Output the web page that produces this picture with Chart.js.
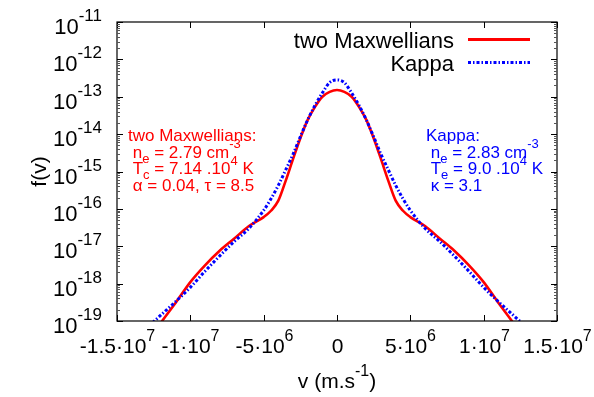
<!DOCTYPE html>
<html>
<head>
<meta charset="utf-8">
<script src="https://cdn.jsdelivr.net/npm/chart.js@4"></script>
<style>
  html, body { margin: 0; padding: 0; background: #fff; }
  #wrap { width: 594px; height: 397px; }
</style>
</head>
<body>
<div id="wrap"><canvas id="myChart" width="594" height="397"></canvas></div>
<script>
// velocities (m/s) where the curves were read
var velocity = [-13e6, -12e6, -11e6, -10e6, -9e6, -8e6, -7e6, -6e6, -5e6, -4.5e6, -4e6, -3.5e6, -3e6, -2.5e6, -2e6, -1.5e6, -1e6, -0.5e6, 0,
                0.5e6, 1e6, 1.5e6, 2e6, 2.5e6, 3e6, 3.5e6, 4e6, 4.5e6, 5e6, 6e6, 7e6, 8e6, 9e6, 10e6, 11e6, 12e6, 13e6];

// two Maxwellians fit
var fMaxwell = [2.5e-20, 9.1e-20, 3.09e-19, 1.10e-18, 3.09e-18, 7.59e-18, 1.62e-17, 3.47e-17, 6.03e-17, 8.91e-17, 1.66e-16, 5.62e-16, 2.14e-15, 7.76e-15, 2.40e-14, 5.37e-14, 1.0e-13, 1.35e-13, 1.51e-13,
                1.35e-13, 1.0e-13, 5.37e-14, 2.40e-14, 7.76e-15, 2.14e-15, 5.62e-16, 1.66e-16, 8.91e-17, 6.03e-17, 3.47e-17, 1.62e-17, 7.59e-18, 3.09e-18, 1.10e-18, 3.09e-19, 9.1e-20, 2.5e-20];

// Kappa fit
var fKappa = [6.3e-20, 1.45e-19, 3.31e-19, 7.94e-19, 2.14e-18, 5.50e-18, 1.35e-17, 3.02e-17, 9.12e-17, 1.86e-16, 4.27e-16, 1.10e-15, 2.88e-15, 8.51e-15, 2.40e-14, 5.89e-14, 1.26e-13, 2.40e-13, 2.82e-13,
              2.40e-13, 1.26e-13, 5.89e-14, 2.40e-14, 8.51e-15, 2.88e-15, 1.10e-15, 4.27e-16, 1.86e-16, 9.12e-17, 3.02e-17, 1.35e-17, 5.50e-18, 2.14e-18, 7.94e-19, 3.31e-19, 1.45e-19, 6.3e-20];

var xTicks = [-1.5e7, -1e7, -5e6, 0, 5e6, 1e7, 1.5e7];
var xTickLabels = ['-1.5·10^{7}', '-1·10^{7}', '-5·10^{6}', '0', '5·10^{6}', '1·10^{7}', '1.5·10^{7}'];
var yTicks = [1e-19, 1e-18, 1e-17, 1e-16, 1e-15, 1e-14, 1e-13, 1e-12, 1e-11];
var yTickLabels = ['10^{-19}', '10^{-18}', '10^{-17}', '10^{-16}', '10^{-15}', '10^{-14}', '10^{-13}', '10^{-12}', '10^{-11}'];

var maxwellText = ['two Maxwellians:', ' n_{e} = 2.79 cm^{-3}', ' T_{c} = 7.14 .10^{4} K', ' α = 0.04, τ = 8.5'];
var kappaText = ['Kappa:', ' n_{e} = 2.83 cm^{-3}', ' T_{e} = 9.0 .10^{4} K', ' κ = 3.1'];

var RED = '#ff0000';
var BLUE = '#0000ff';
var KDASH = [3, 2, 1.5, 2];
var FONT = '"Liberation Sans", Arial, sans-serif';

function toPoints(xs, ys) {
  return xs.map(function (x, i) { return { x: x, y: ys[i] }; });
}

// tiny "a^{b}" / "a_{b}" text helper, gnuplot style
function parseRich(s) {
  var segs = [], buf = '', i = 0;
  while (i < s.length) {
    var c = s[i];
    if ((c === '^' || c === '_') && s[i + 1] === '{') {
      if (buf) segs.push({ t: buf, m: 0 });
      buf = '';
      var end = s.indexOf('}', i);
      segs.push({ t: s.slice(i + 2, end), m: c === '^' ? 1 : -1 });
      i = end + 1;
    } else {
      buf += c;
      i++;
    }
  }
  if (buf) segs.push({ t: buf, m: 0 });
  return segs;
}

function drawRich(ctx, s, x, y, size, align, color) {
  var segs = parseRich(s);
  var small = Math.round(size * 0.75);
  var w = 0;
  segs.forEach(function (g) {
    ctx.font = (g.m ? small : size) + 'px ' + FONT;
    g.w = ctx.measureText(g.t).width;
    w += g.w;
  });
  var cx = align === 'right' ? x - w : (align === 'center' ? x - w / 2 : x);
  ctx.fillStyle = color;
  ctx.textAlign = 'left';
  ctx.textBaseline = 'alphabetic';
  segs.forEach(function (g) {
    ctx.font = (g.m ? small : size) + 'px ' + FONT;
    var dy = g.m === 1 ? -size * 0.55 : (g.m === -1 ? size * 0.3 : 0);
    ctx.fillText(g.t, cx, y + dy);
    cx += g.w;
  });
}

var gnuplotLook = {
  id: 'gnuplotLook',
  afterDraw: function (chart) {
    var ctx = chart.ctx;
    var a = chart.chartArea;
    var xs = chart.scales.x, ys = chart.scales.y;
    ctx.save();

    // frame
    ctx.strokeStyle = '#000';
    ctx.lineWidth = 1.2;
    ctx.strokeRect(a.left, a.top, a.right - a.left, a.bottom - a.top);

    // x ticks, bottom and top
    ctx.lineWidth = 1;
    xTicks.forEach(function (v, i) {
      var px = Math.round(xs.getPixelForValue(v)) + 0.5;
      ctx.beginPath();
      ctx.moveTo(px, a.bottom); ctx.lineTo(px, a.bottom - 6);
      ctx.moveTo(px, a.top); ctx.lineTo(px, a.top + 6);
      ctx.stroke();
      drawRich(ctx, xTickLabels[i], px, 353, 21, 'center', '#000');
    });

    // y ticks, left and right, with log minor ticks
    yTicks.forEach(function (v, i) {
      var py = Math.round(ys.getPixelForValue(v)) + 0.5;
      ctx.strokeStyle = '#000';
      ctx.beginPath();
      ctx.moveTo(a.left, py); ctx.lineTo(a.left + 6, py);
      ctx.moveTo(a.right, py); ctx.lineTo(a.right - 6, py);
      ctx.stroke();
      drawRich(ctx, yTickLabels[i], 102, py + 11, 22, 'right', '#000');
      if (i < yTicks.length - 1) {
        ctx.strokeStyle = '#555';
        for (var m = 2; m <= 9; m++) {
          var my = Math.round(ys.getPixelForValue(v * m)) + 0.5;
          ctx.beginPath();
          ctx.moveTo(a.left, my); ctx.lineTo(a.left + 3, my);
          ctx.moveTo(a.right, my); ctx.lineTo(a.right - 3, my);
          ctx.stroke();
        }
      }
    });

    // axis titles
    drawRich(ctx, 'v (m.s^{-1})', (a.left + a.right) / 2, 388, 21, 'center', '#000');
    ctx.save();
    ctx.translate(46, (a.top + a.bottom) / 2);
    ctx.rotate(-Math.PI / 2);
    drawRich(ctx, 'f(v)', 0, 0, 21, 'center', '#000');
    ctx.restore();

    // key, top right
    drawRich(ctx, 'two Maxwellians', 454, 48, 22, 'right', '#000');
    drawRich(ctx, 'Kappa', 454, 71, 22, 'right', '#000');
    ctx.lineWidth = 3;
    ctx.strokeStyle = RED;
    ctx.beginPath(); ctx.moveTo(468, 39.5); ctx.lineTo(530, 39.5); ctx.stroke();
    ctx.strokeStyle = BLUE;
    ctx.setLineDash(KDASH);
    ctx.beginPath(); ctx.moveTo(468, 62.5); ctx.lineTo(530, 62.5); ctx.stroke();
    ctx.setLineDash([]);

    // fit parameters
    maxwellText.forEach(function (t, i) {
      drawRich(ctx, t, 128, 141 + i * 16.5, 17, 'left', RED);
    });
    kappaText.forEach(function (t, i) {
      drawRich(ctx, t, 426, 141 + i * 16.5, 17, 'left', BLUE);
    });

    ctx.restore();
  }
};

var ctx = document.getElementById('myChart').getContext('2d');

var chart = new Chart(ctx, {
    type: 'line',
    data: {
      datasets: [{
        label: 'two Maxwellians',
        data: toPoints(velocity, fMaxwell),
        borderColor: RED,
        backgroundColor: 'transparent',
        borderWidth: 2.6,
        pointRadius: 0,
        cubicInterpolationMode: 'monotone',
        order: 1
      }, {
        label: 'Kappa',
        data: toPoints(velocity, fKappa),
        borderColor: BLUE,
        backgroundColor: 'transparent',
        borderWidth: 3,
        borderDash: KDASH,
        pointRadius: 0,
        cubicInterpolationMode: 'monotone',
        order: 0
      }]
    },
    options: {
      responsive: false,
      animation: false,
      events: [],
      layout: { padding: { top: 22, right: 37, left: 0, bottom: 0 } },
      plugins: {
        legend: { display: false },
        tooltip: { enabled: false }
      },
      scales: {
        x: {
          type: 'linear',
          min: -1.5e7,
          max: 1.5e7,
          grid: { display: false, drawTicks: false },
          border: { display: false },
          ticks: { display: false },
          afterFit: function (s) { s.height = 76; }
        },
        y: {
          type: 'logarithmic',
          min: 1e-19,
          max: 1e-11,
          grid: { display: false, drawTicks: false },
          border: { display: false },
          ticks: { display: false },
          afterFit: function (s) { s.width = 117; }
        }
      }
    },
    plugins: [gnuplotLook]
});
</script>
</body>
</html>
